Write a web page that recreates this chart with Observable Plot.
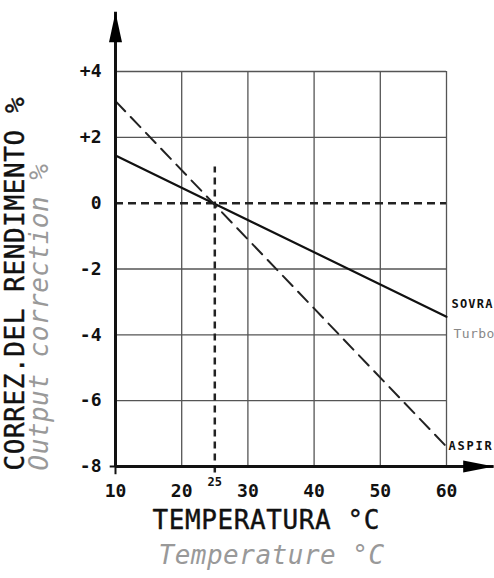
<!DOCTYPE html>
<html><head><meta charset="utf-8">
<script src="https://cdn.jsdelivr.net/npm/d3@7"></script>
<script src="https://cdn.jsdelivr.net/npm/@observablehq/plot@0.6"></script>
<style>
html,body{margin:0;padding:0;background:#fff;overflow:hidden;}
#chart svg{display:block;}
</style></head><body><div id="chart"></div>
<script>
// ---- data ----
const temps = [10, 60];
const sovraValues = [1.45, -3.45];   // SOVRA(LIMENTATO) / Turbo(charged) (solid)
const aspirValues = [3.1, -7.4];     // ASPIR(ATO) (dashed)
const refTemp = 25;
const refSpan = [-8.2, 1.1];
const xTicks = [10, 20, 30, 40, 50, 60];
const yTicks = [4, 2, 0, -2, -4, -6, -8];
const xGridLines = [20, 30, 40, 50, 60];
const yGridLines = [4, 2, -2, -4, -6];
const xDomain = [10, 60];
const yDomain = [-8, 4];
const xAxisEnd = 67.2;
const yAxisEnd = 5.8;
const sovraLabels = ["SOVRA", "Turbo"];
const aspirLabels = ["ASPIR"];
const xTitles = ["TEMPERATURA °C", "Temperature °C"];
const yTitles = ["CORREZ.DEL RENDIMENTO %", "Output correction %"];

const sovra = temps.map((t, i) => ({t, v: sovraValues[i]}));
const aspir = temps.map((t, i) => ({t, v: aspirValues[i]}));

const FONT = "DejaVu Sans Mono";
const upArrow = {draw(ctx) { ctx.moveTo(0, 0); ctx.lineTo(-6.5, 30); ctx.lineTo(6.5, 30); ctx.closePath(); }};
const rightArrow = {draw(ctx) { ctx.moveTo(0, 0); ctx.lineTo(-31, -6); ctx.lineTo(-31, 6); ctx.closePath(); }};
const fmtY = d => d > 0 ? "+" + d : String(d);

const chart = Plot.plot({
  width: 494,
  height: 578,
  marginLeft: 115,
  marginRight: 48,
  marginTop: 71,
  marginBottom: 112,
  style: {background: "white", fontFamily: FONT},
  x: {domain: xDomain, axis: null},
  y: {domain: yDomain, axis: null},
  marks: [
    Plot.ruleX(xGridLines, {x: d => d, y1: yDomain[0], y2: yDomain[1], stroke: "#555", strokeWidth: 1.3}),
    Plot.ruleY(yGridLines, {y: d => d, x1: xDomain[0], x2: xDomain[1], stroke: "#555", strokeWidth: 1.3}),
    Plot.ruleY([0], {y: d => d, x1: xDomain[0], x2: xDomain[1], stroke: "#222", strokeWidth: 2.5, strokeDasharray: "8,5"}),
    Plot.ruleX([refTemp], {x: d => d, y1: refSpan[0], y2: refSpan[1], stroke: "#222", strokeWidth: 2.5, strokeDasharray: "7,5"}),
    Plot.line(sovra, {x: "t", y: "v", stroke: "#111", strokeWidth: 2.2}),
    Plot.line(aspir, {x: "t", y: "v", stroke: "#222", strokeWidth: 2, strokeDasharray: "14,8"}),
    // axes
    Plot.ruleX([xDomain[0]], {x: d => d, y1: yDomain[0], y2: yAxisEnd, stroke: "#111", strokeWidth: 3}),
    Plot.ruleY([yDomain[0]], {y: d => d, x1: xDomain[0], x2: xAxisEnd, stroke: "#111", strokeWidth: 3}),
    Plot.ruleX([xDomain[0]], {x: d => d, y1: yDomain[0] - 0.25, y2: yDomain[0], stroke: "#111", strokeWidth: 2}),
    Plot.ruleY([yDomain[0]], {y: d => d, x1: xDomain[0] - 0.8, x2: xDomain[0], stroke: "#111", strokeWidth: 2}),
    Plot.dot([{x: xDomain[0], y: yAxisEnd}], {x: "x", y: "y", symbol: upArrow, fill: "#000", stroke: "none"}),
    Plot.dot([{x: xAxisEnd, y: yDomain[0]}], {x: "x", y: "y", symbol: rightArrow, fill: "#000", stroke: "none"}),
    // tick labels
    Plot.text(xTicks, {x: d => d, frameAnchor: "bottom", dy: 30, text: d => String(d), fontFamily: FONT, fontSize: 18, fontWeight: "bold", fill: "#111"}),
    Plot.text(yTicks, {y: d => d, frameAnchor: "left", dx: -14, textAnchor: "end", text: fmtY, fontFamily: FONT, fontSize: 18, fontWeight: "bold", fill: "#111"}),
    Plot.text([refTemp], {x: d => d, frameAnchor: "bottom", dy: 19, text: d => String(d), fontFamily: FONT, fontSize: 12, fontWeight: "bold", fill: "#111"}),
    // series labels
    Plot.text([sovra[1]], {x: "t", y: "v", text: () => sovraLabels[0], textAnchor: "start", dx: 5, dy: -13, fontFamily: FONT, fontSize: 12, fontWeight: "bold", fill: "#111"}),
    Plot.text([sovra[1]], {x: "t", y: "v", text: () => sovraLabels[1], textAnchor: "start", dx: 7, dy: 17, fontFamily: FONT, fontSize: 13, fill: "#888"}),
    Plot.text([aspir[1]], {x: "t", y: "v", text: () => aspirLabels[0], textAnchor: "start", dx: 2, dy: -1, fontFamily: FONT, fontSize: 12, fontWeight: "bold", fill: "#111"}),
    // titles
    Plot.text([xTitles[0]], {frameAnchor: "bottom-left", text: d => d, textAnchor: "start", dx: 37, dy: 62, fontFamily: FONT, fontSize: 26, fill: "#111", stroke: "#111", strokeWidth: 0.4}),
    Plot.text([xTitles[1]], {frameAnchor: "bottom-left", text: d => d, textAnchor: "start", dx: 43, dy: 97, fontFamily: FONT, fontSize: 26, fontStyle: "italic", fill: "#999"}),
    Plot.text([yTitles[0]], {frameAnchor: "bottom-left", text: d => d, textAnchor: "start", rotate: -90, dx: -92, dy: 4, fontFamily: FONT, fontSize: 26, fill: "#111", stroke: "#111", strokeWidth: 0.4}),
    Plot.text([yTitles[1]], {frameAnchor: "bottom-left", text: d => d, textAnchor: "start", rotate: -90, dx: -68, dy: 4, fontFamily: FONT, fontSize: 26, fontStyle: "italic", fill: "#999"})
  ]
});
document.getElementById("chart").appendChild(chart);
const spacing = new Map([
  [xTitles[0], 0.6], [xTitles[1], 0.5], [yTitles[0], 0.6], [yTitles[1], 0.5],
  [sovraLabels[0], 1.2], [sovraLabels[1], 0.4], [aspirLabels[0], 1.8]
]);
d3.select(chart).selectAll("text").each(function() {
  const s = spacing.get(this.textContent);
  if (s != null) this.setAttribute("letter-spacing", s);
});
</script></body></html>
